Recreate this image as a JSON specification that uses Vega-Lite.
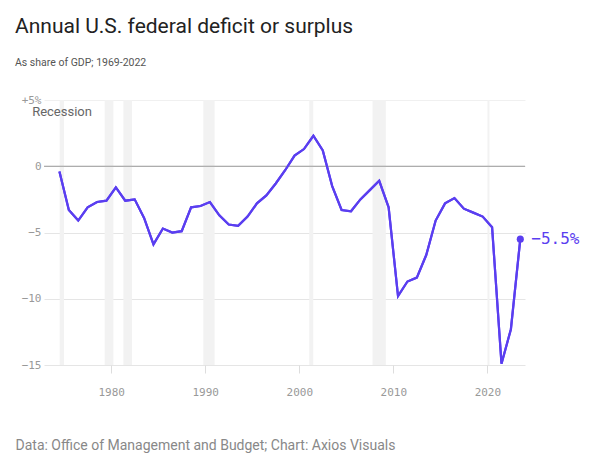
{
  "$schema": "https://vega.github.io/schema/vega-lite/v6.json",
  "width": 481,
  "height": 265,
  "autosize": {"type": "none"},
  "padding": {"left": 44, "top": 100, "right": 75, "bottom": 111},
  "background": "white",
  "title": {
    "text": "Annual U.S. federal deficit or surplus",
    "subtitle": "As share of GDP; 1969-2022",
    "anchor": "start",
    "frame": "group",
    "dx": -29,
    "offset": 26,
    "font": "Roboto",
    "fontSize": 21,
    "fontWeight": "normal",
    "color": "#222222",
    "subtitleFont": "Roboto",
    "subtitleFontSize": 10.5,
    "subtitleColor": "#555555",
    "subtitlePadding": 21
  },
  "datasets": {
    "deficit": [
      {"year": "1974", "t": 1974.5, "v": -0.4},
      {"year": "1975", "t": 1975.5, "v": -3.3},
      {"year": "1976", "t": 1976.5, "v": -4.1},
      {"year": "TQ", "t": 1977.5, "v": -3.1},
      {"year": "1977", "t": 1978.5, "v": -2.7},
      {"year": "1978", "t": 1979.5, "v": -2.6},
      {"year": "1979", "t": 1980.5, "v": -1.6},
      {"year": "1980", "t": 1981.5, "v": -2.6},
      {"year": "1981", "t": 1982.5, "v": -2.5},
      {"year": "1982", "t": 1983.5, "v": -3.9},
      {"year": "1983", "t": 1984.5, "v": -5.9},
      {"year": "1984", "t": 1985.5, "v": -4.7},
      {"year": "1985", "t": 1986.5, "v": -5.0},
      {"year": "1986", "t": 1987.5, "v": -4.9},
      {"year": "1987", "t": 1988.5, "v": -3.1},
      {"year": "1988", "t": 1989.5, "v": -3.0},
      {"year": "1989", "t": 1990.5, "v": -2.7},
      {"year": "1990", "t": 1991.5, "v": -3.7},
      {"year": "1991", "t": 1992.5, "v": -4.4},
      {"year": "1992", "t": 1993.5, "v": -4.5},
      {"year": "1993", "t": 1994.5, "v": -3.8},
      {"year": "1994", "t": 1995.5, "v": -2.8},
      {"year": "1995", "t": 1996.5, "v": -2.2},
      {"year": "1996", "t": 1997.5, "v": -1.3},
      {"year": "1997", "t": 1998.5, "v": -0.3},
      {"year": "1998", "t": 1999.5, "v": 0.8},
      {"year": "1999", "t": 2000.5, "v": 1.3},
      {"year": "2000", "t": 2001.5, "v": 2.3},
      {"year": "2001", "t": 2002.5, "v": 1.2},
      {"year": "2002", "t": 2003.5, "v": -1.5},
      {"year": "2003", "t": 2004.5, "v": -3.3},
      {"year": "2004", "t": 2005.5, "v": -3.4},
      {"year": "2005", "t": 2006.5, "v": -2.5},
      {"year": "2006", "t": 2007.5, "v": -1.8},
      {"year": "2007", "t": 2008.5, "v": -1.1},
      {"year": "2008", "t": 2009.5, "v": -3.1},
      {"year": "2009", "t": 2010.5, "v": -9.8},
      {"year": "2010", "t": 2011.5, "v": -8.7},
      {"year": "2011", "t": 2012.5, "v": -8.4},
      {"year": "2012", "t": 2013.5, "v": -6.7},
      {"year": "2013", "t": 2014.5, "v": -4.1},
      {"year": "2014", "t": 2015.5, "v": -2.8},
      {"year": "2015", "t": 2016.5, "v": -2.4},
      {"year": "2016", "t": 2017.5, "v": -3.2},
      {"year": "2017", "t": 2018.5, "v": -3.5},
      {"year": "2018", "t": 2019.5, "v": -3.8},
      {"year": "2019", "t": 2020.5, "v": -4.6},
      {"year": "2020", "t": 2021.5, "v": -14.9},
      {"year": "2021", "t": 2022.5, "v": -12.3},
      {"year": "2022", "t": 2023.5, "v": -5.5}
    ],
    "recessions": [
      {"start": 1974.53, "end": 1974.99},
      {"start": 1979.31, "end": 1980.24},
      {"start": 1981.30, "end": 1982.21},
      {"start": 1989.80, "end": 1991.0},
      {"start": 2001.06, "end": 2001.49},
      {"start": 2007.79, "end": 2009.20},
      {"start": 2020.01, "end": 2020.22}
    ],
    "annotations": [
      {"t": 1971.6, "v": 4.1, "label": "Recession"}
    ],
    "endlabel": [
      {"t": 2023.5, "v": -5.5, "label": "−5.5%"}
    ]
  },
  "config": {
    "view": {"stroke": null},
    "axis": {"domain": false}
  },
  "layer": [
    {
      "data": {"name": "recessions"},
      "mark": {"type": "rect", "color": "#f2f2f2"},
      "encoding": {
        "x": {
          "field": "start",
          "type": "quantitative",
          "scale": {"domain": [1972.86, 2024], "nice": false, "zero": false},
          "axis": {
            "values": [1980, 1990, 2000, 2010, 2020],
            "format": "d",
            "grid": false,
            "ticks": true,
            "tickSize": 8,
            "tickColor": "#dddddd",
            "labelFont": "DejaVu Sans Mono",
            "labelFontSize": 11,
            "labelColor": "#999999",
            "labelPadding": 13,
            "title": "Data: Office of Management and Budget; Chart: Axios Visuals",
            "titleFont": "Roboto",
            "titleFontSize": 14,
            "titleFontWeight": "normal",
            "titleColor": "#888888",
            "titleAlign": "left",
            "titleAnchor": "start",
            "titleBaseline": "alphabetic",
            "titleX": -29,
            "titleY": 84
          }
        },
        "x2": {"field": "end"},
        "y": {"datum": 5, "type": "quantitative"},
        "y2": {"datum": -15}
      }
    },
    {
      "data": {"name": "deficit"},
      "mark": {"type": "line", "color": "#5a3ef0", "strokeWidth": 2.2},
      "encoding": {
        "x": {"field": "t", "type": "quantitative"},
        "y": {
          "field": "v",
          "type": "quantitative",
          "scale": {"domain": [-15, 5], "nice": false},
          "axis": {
            "values": [-15, -10, -5, 0, 5],
            "labelExpr": "datum.value > 0 ? '+' + datum.value + '%' : datum.value < 0 ? '−' + abs(datum.value) : '0'",
            "grid": true,
            "gridColor": {"condition": {"test": "datum.value == 5", "value": "#f0f0f0"}, "value": "#e5e5e5"},
            "ticks": false,
            "labelFont": "DejaVu Sans Mono",
            "labelFontSize": 11,
            "labelColor": "#999999",
            "labelPadding": 3,
            "title": null
          }
        }
      }
    },
    {
      "data": {"values": [{"z": 0}]},
      "mark": {"type": "rule", "color": "#9a9a9a", "strokeWidth": 1},
      "encoding": {"y": {"field": "z", "type": "quantitative"}}
    },
    {
      "data": {"name": "deficit"},
      "mark": {"type": "line", "color": "#5a3ef0", "strokeWidth": 2.2},
      "encoding": {
        "x": {"field": "t", "type": "quantitative"},
        "y": {"field": "v", "type": "quantitative"}
      }
    },
    {
      "data": {"name": "endlabel"},
      "mark": {"type": "point", "filled": true, "color": "#5a3ef0", "size": 50, "opacity": 1},
      "encoding": {
        "x": {"field": "t", "type": "quantitative"},
        "y": {"field": "v", "type": "quantitative"}
      }
    },
    {
      "data": {"name": "endlabel"},
      "mark": {"type": "text", "align": "left", "baseline": "middle", "dx": 11, "font": "DejaVu Sans Mono", "fontSize": 16, "color": "#5a3ef0"},
      "encoding": {
        "x": {"field": "t", "type": "quantitative"},
        "y": {"field": "v", "type": "quantitative"},
        "text": {"field": "label"}
      }
    },
    {
      "data": {"name": "annotations"},
      "mark": {"type": "text", "align": "left", "baseline": "middle", "font": "Roboto", "fontSize": 13, "color": "#666666"},
      "encoding": {
        "x": {"field": "t", "type": "quantitative"},
        "y": {"field": "v", "type": "quantitative"},
        "text": {"field": "label"}
      }
    }
  ]
}
